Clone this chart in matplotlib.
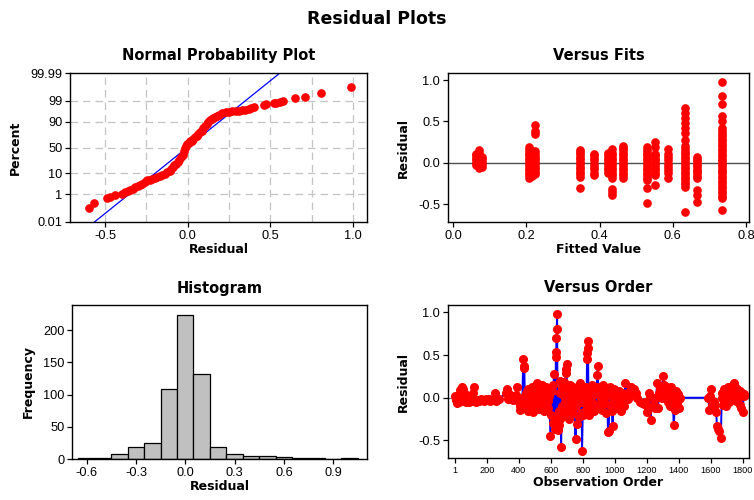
import matplotlib
matplotlib.use('Agg')
import matplotlib.pyplot as plt
import numpy as np
from statistics import NormalDist

plt.rcParams['font.family'] = ['DejaVu Sans']

# ---- normal probability plot: residual vs percent
npp_resid = [-0.60, -0.57, -0.49, -0.47, -0.44, -0.40, -0.38, -0.36, -0.35, -0.33,
             -0.32, -0.30, -0.29, -0.275, -0.26, -0.245, -0.23, -0.215, -0.20, -0.185,
             -0.17, -0.155, -0.14, -0.125, -0.11, -0.10, -0.09, -0.08, -0.07, -0.06,
             -0.05, -0.04, -0.03, -0.02, -0.015, -0.01, -0.005, 0.005, 0.015, 0.025,
             0.035, 0.045, 0.055, 0.065, 0.075, 0.085, 0.095, 0.105, 0.115, 0.125,
             0.135, 0.145, 0.155, 0.165, 0.175, 0.19, 0.21, 0.23, 0.25, 0.27,
             0.29, 0.31, 0.33, 0.35, 0.37, 0.385, 0.40, 0.46, 0.475, 0.52,
             0.535, 0.56, 0.58, 0.65, 0.71, 0.81, 0.99]
npp_pct = [0.135, 0.30, 0.57, 0.68, 0.89, 1.07, 1.39, 1.55, 1.66, 2.0,
           2.3, 2.65, 3.0, 3.6, 4.4, 5.0, 5.4, 5.8, 6.2, 6.8,
           7.6, 8.4, 9.4, 10.8, 12.4, 14.5, 16.5, 18.5, 21, 23.5,
           26.5, 31, 36, 44, 49, 53, 57, 59.5, 62, 63.5,
           66.5, 69.5, 72, 74.8, 77.5, 80, 83, 85.5, 88, 90,
           91.3, 92.2, 93, 93.7, 94.3, 95, 95.8, 96.0, 96.2, 96.4,
           96.6, 96.75, 96.9, 97.1, 97.4, 97.7, 97.9, 98.35, 98.45, 98.65,
           98.75, 98.9, 99.0, 99.29, 99.43, 99.67, 99.87]
fit_mean = -0.003
fit_sd = 0.151
pct_ticks = [0.01, 1, 10, 50, 90, 99, 99.99]
pct_labels = ['0.01', '1', '10', '50', '90', '99', '99.99']

# ---- versus fits: fitted value columns and their residuals
fit_x = [0.062, 0.070, 0.078, 0.206, 0.214, 0.222, 0.347, 0.386, 0.424, 0.433,
         0.465, 0.530, 0.551, 0.586, 0.633, 0.667, 0.735]
fit_resid = [
    [-0.03, 0.0, 0.03, 0.06, 0.09, 0.11],
    [-0.06, -0.03, 0.0, 0.03, 0.06, 0.09, 0.12, 0.15],
    [-0.05, -0.02, 0.01, 0.04, 0.07],
    [-0.18, -0.15, -0.12, -0.09, -0.06, -0.03, 0.0, 0.03, 0.06, 0.09, 0.12, 0.15, 0.19],
    [-0.16, -0.13, -0.10, -0.07, -0.04, -0.01, 0.02, 0.05, 0.08, 0.11, 0.14],
    [-0.14, -0.11, -0.08, -0.05, -0.02, 0.01, 0.04, 0.07, 0.10, 0.14, 0.35, 0.38, 0.46],
    [-0.31, -0.17, -0.14, -0.11, -0.08, -0.05, -0.02, 0.01, 0.04, 0.07, 0.10, 0.13, 0.15],
    [-0.15, -0.12, -0.08, -0.05, -0.01, 0.03, 0.06, 0.09, 0.11],
    [-0.12, -0.09, -0.06, -0.03, 0.0, 0.03, 0.06, 0.09, 0.12],
    [-0.39, -0.36, -0.32, -0.18, -0.15, -0.12, -0.09, -0.06, -0.03, 0.0, 0.03, 0.06, 0.09, 0.12, 0.16],
    [-0.18, -0.15, -0.12, -0.09, -0.06, -0.03, 0.0, 0.03, 0.06, 0.09, 0.12, 0.15, 0.18, 0.20],
    [-0.49, -0.31, -0.21, -0.18, -0.15, -0.12, -0.09, -0.06, -0.03, 0.0, 0.03, 0.06, 0.09, 0.12, 0.15, 0.19],
    [-0.27, -0.15, -0.12, -0.09, -0.06, -0.03, 0.0, 0.03, 0.06, 0.09, 0.11, 0.19, 0.25],
    [-0.18, -0.13, -0.09, -0.05, -0.01, 0.03, 0.07, 0.11, 0.17],
    [-0.60, -0.29, -0.26, -0.23, -0.20, -0.17, -0.14, -0.11, -0.08, -0.05, -0.02, 0.01, 0.04,
     0.07, 0.10, 0.13, 0.16, 0.20, 0.28, 0.36, 0.42, 0.48, 0.54, 0.60, 0.66],
    [-0.47, -0.39, -0.33, -0.19, -0.16, -0.13, -0.10, -0.07, -0.04, -0.01, 0.02, 0.05, 0.07],
    [-0.57, -0.43, -0.40, -0.37, -0.34, -0.31, -0.28, -0.25, -0.22, -0.19, -0.16, -0.13, -0.10,
     -0.07, -0.04, -0.01, 0.02, 0.05, 0.08, 0.11, 0.14, 0.17, 0.20, 0.23, 0.26, 0.29, 0.32,
     0.35, 0.38, 0.42, 0.50, 0.56, 0.71, 0.81, 0.98],
]

# ---- histogram of residuals
bin_centers = [-0.6, -0.5, -0.4, -0.3, -0.2, -0.1, 0.0, 0.1, 0.2, 0.3, 0.4, 0.5, 0.6, 0.7, 0.8, 0.9, 1.0]
bin_counts = [1, 2, 7, 19, 25, 108, 224, 132, 19, 8, 5, 5, 3, 2, 1, 0, 1]

# ---- versus order
obs_order = [1, 8, 14, 20, 27, 33, 40, 46, 52, 58, 64, 70, 78, 86, 95, 104, 112, 118, 124, 132,
             142, 152, 162, 172, 182, 192, 202, 212, 222, 232, 242, 252, 258, 266, 275,
             318, 325, 332, 340, 348, 356, 364, 372, 380, 390, 398, 404, 410, 416, 422,
             427, 430, 434, 438, 440, 445, 450, 455, 460, 465, 470, 475, 480, 485, 490,
             495, 500, 505, 510, 515, 520, 525, 530, 535, 540, 545, 550, 555, 560, 565,
             570, 575, 580, 585, 590, 597, 602, 607, 612, 616, 620, 624, 628, 631, 633,
             635, 637, 639, 642, 645, 648, 651, 654, 657, 660, 664, 668, 672, 676, 680,
             684, 688, 692, 695, 698, 701, 705, 709, 713, 717, 721, 725, 729, 733, 737,
             741, 745, 749, 754, 758, 762, 766, 770, 774, 779, 783, 787, 791, 795, 799,
             803, 807, 811, 815, 819, 823, 826, 828, 830, 832, 835, 840, 845, 850, 855,
             860, 865, 870, 875, 880, 885, 889, 893, 897, 902, 907, 912, 917, 922, 927,
             932, 937, 942, 947, 952, 957, 962, 967, 972, 977, 982, 986, 990, 995, 1000,
             1005, 1010, 1015, 1020, 1025, 1030, 1035, 1040, 1045, 1050, 1055, 1066, 1075, 1085, 1098,
             1104, 1110, 1120, 1130, 1140, 1160, 1170, 1180, 1190, 1198, 1205, 1212, 1218, 1223, 1230,
             1238, 1245, 1252, 1258, 1264, 1270, 1276, 1284, 1292, 1302, 1306, 1312, 1318, 1324, 1330,
             1336, 1342, 1348, 1354, 1358, 1362, 1368, 1374, 1380, 1386, 1392, 1398, 1404, 1410,
             1585, 1590, 1596, 1600, 1606, 1612, 1620, 1628, 1634, 1638, 1644, 1649, 1663, 1668,
             1672, 1676, 1680, 1685, 1690, 1695, 1700, 1705, 1710, 1715, 1720, 1725, 1730, 1735,
             1740, 1745, 1750, 1755, 1760, 1765, 1770, 1775, 1780, 1785, 1790, 1795, 1800, 1805, 1810]
order_resid = [0.02, -0.03, -0.06, 0.01, -0.05, 0.09, 0.05, 0.12, 0.10, -0.04, 0.04, -0.05, -0.03, -0.05, -0.03, -0.04, 0.05, 0.12, -0.03, -0.05,
               -0.03, -0.04, -0.02, -0.03, -0.04, -0.02, -0.03, -0.02, -0.04, -0.03, -0.02, 0.06, -0.04, -0.03, -0.02,
               0.06, 0.10, -0.01, 0.04, -0.02, 0.02, -0.03, -0.01, 0.03, 0.13, -0.05, -0.10, -0.14, -0.08, 0.0,
               0.45, 0.37, 0.35, -0.10, -0.12, 0.05, -0.03, 0.10, -0.15, 0.02, 0.08, -0.08, 0.12, -0.05, -0.17,
               0.0, 0.14, -0.10, 0.06, 0.17, -0.02, -0.13, 0.10, 0.03, -0.07, 0.15, 0.08, -0.16, 0.0, -0.09,
               0.12, 0.05, -0.04, -0.12, 0.02, -0.45, -0.20, 0.08, -0.30, 0.15, 0.28, -0.22, -0.36, 0.48, 0.54,
               0.70, 0.81, 0.98, -0.28, -0.38, -0.15, -0.32, 0.05, -0.25, 0.20, -0.58, -0.10, 0.12, -0.20, 0.02,
               0.18, -0.05, 0.29, 0.34, 0.39, 0.10, -0.15, 0.05, -0.25, 0.15, -0.08, 0.0, -0.12, 0.08, -0.18,
               0.12, -0.05, 0.03, -0.48, -0.10, 0.05, -0.31, 0.02, -0.22, 0.17, -0.05, -0.18, 0.10, -0.62, -0.20,
               -0.05, 0.10, -0.15, 0.02, 0.12, -0.10, 0.45, 0.52, 0.58, 0.66, 0.0, -0.20, 0.08, -0.12, 0.15,
               -0.05, 0.10, -0.15, 0.04, 0.13, -0.08, 0.27, 0.37, 0.05, -0.10, 0.12, -0.02, 0.08, -0.14, 0.15,
               0.0, -0.06, 0.10, -0.18, 0.05, -0.40, -0.39, 0.12, -0.08, 0.04, -0.15, -0.33, 0.0, 0.10, -0.05,
               0.07, -0.12, 0.03, -0.02, 0.08, -0.08, 0.02, -0.15, 0.05, -0.03, -0.10, 0.17, 0.05, -0.02, 0.12,
               0.08, 0.04, 0.10, 0.05, 0.0, -0.05, -0.06, -0.07, -0.05, -0.17, -0.12, 0.06, 0.02, -0.26, -0.10,
               0.0, -0.08, -0.12, 0.0, 0.17, -0.12, 0.05, 0.10, 0.0, 0.25, 0.15, 0.08, 0.02, 0.12, -0.05,
               0.10, -0.10, 0.05, 0.12, -0.08, 0.0, -0.32, -0.14, 0.08, -0.06, 0.04, -0.12, -0.02, 0.0,
               0.0, -0.14, 0.02, 0.10, -0.08, -0.04, -0.05, -0.08, -0.17, -0.33, -0.37, -0.39, -0.47, 0.0,
               0.05, -0.08, 0.10, -0.03, 0.06, -0.10, 0.08, 0.02, 0.12, -0.05, 0.10, 0.03, 0.14, -0.02,
               0.07, 0.17, 0.12, 0.05, -0.04, 0.10, 0.0, 0.06, -0.08, 0.08, -0.12, 0.05, -0.17, 0.02, 0.04]
order_ticks = [1, 200, 400, 600, 800, 1000, 1200, 1400, 1600, 1800]

RED = '#ff0000'
MS = 5.2
title_kw = dict(fontsize=10.5, fontweight='bold', pad=9)
lab_kw = dict(fontsize=9, fontweight='bold')
GRID = dict(color='#c4c4c4', ls=(0, (6, 4)), lw=0.9, zorder=0)


def style(ax, size=9.2):
    for s in ax.spines.values():
        s.set_linewidth(1.0)
        s.set_color('black')
    ax.tick_params(direction='out', length=3.5, width=0.9, labelsize=size, colors='black',
                   pad=2, labelfontfamily='Liberation Sans')


fig = plt.figure(figsize=(7.54, 5.0), dpi=100)
fig.text(0.5, 0.963, 'Residual Plots', ha='center', va='center', fontsize=12.5, fontweight='bold')

nd = NormalDist()

# Normal probability plot
ax1 = fig.add_axes([0.093, 0.556, 0.394, 0.298])
zlim = nd.inv_cdf(0.0001)
for g in [-0.5, -0.25, 0.0, 0.25, 0.5, 0.75, 1.0]:
    ax1.axvline(g, **GRID)
for p in [1, 10, 50, 90, 99]:
    ax1.axhline(nd.inv_cdf(p / 100), **GRID)
zz = np.array([zlim, -zlim])
ax1.plot(fit_mean + fit_sd * zz, zz, color='blue', lw=0.9, zorder=2)
ax1.plot(npp_resid, [nd.inv_cdf(p / 100) for p in npp_pct], 'o', color=RED, ms=MS, mec=RED, zorder=3)
ax1.set_xlim(-0.712, 1.087)
ax1.set_ylim(zlim, -zlim)
ax1.set_yticks([nd.inv_cdf(p / 100) for p in pct_ticks])
ax1.set_yticklabels(pct_labels)
ax1.set_xticks([-0.5, 0.0, 0.5, 1.0])
ax1.set_xticklabels(['-0.5', '0.0', '0.5', '1.0'])
ax1.set_title('Normal Probability Plot', **title_kw)
ax1.set_xlabel('Residual', labelpad=1, **lab_kw)
ax1.set_ylabel('Percent', labelpad=6, **lab_kw)
style(ax1)

# Versus fits
ax2 = fig.add_axes([0.594, 0.556, 0.400, 0.298])
ax2.axhline(0, color='#505050', lw=1.0, zorder=1)
for xv, rs in zip(fit_x, fit_resid):
    ax2.plot([xv] * len(rs), rs, 'o', color=RED, ms=MS, mec=RED, zorder=3)
ax2.set_xlim(-0.015, 0.81)
ax2.set_ylim(-0.717, 1.085)
ax2.set_xticks([0.0, 0.2, 0.4, 0.6, 0.8])
ax2.set_xticklabels(['0.0', '0.2', '0.4', '0.6', '0.8'])
ax2.set_yticks([-0.5, 0.0, 0.5, 1.0])
ax2.set_yticklabels(['-0.5', '0.0', '0.5', '1.0'])
ax2.set_title('Versus Fits', **title_kw)
ax2.set_xlabel('Fitted Value', labelpad=1, **lab_kw)
ax2.set_ylabel('Residual', labelpad=6, **lab_kw)
style(ax2)

# Histogram
ax3 = fig.add_axes([0.0955, 0.082, 0.391, 0.308])
ax3.bar(bin_centers, bin_counts, width=0.1, color='#c0c0c0', edgecolor='black', lw=0.9)
ax3.set_xlim(-0.689, 1.105)
ax3.set_ylim(0, 239)
ax3.set_xticks([-0.6, -0.3, 0.0, 0.3, 0.6, 0.9])
ax3.set_xticklabels(['-0.6', '-0.3', '0.0', '0.3', '0.6', '0.9'])
ax3.set_yticks([0, 50, 100, 150, 200])
ax3.set_title('Histogram', **title_kw)
ax3.set_xlabel('Residual', labelpad=1, **lab_kw)
ax3.set_ylabel('Frequency', labelpad=6, **lab_kw)
style(ax3)

# Versus order
ax4 = fig.add_axes([0.594, 0.084, 0.399, 0.306])
ax4.axhline(0, color='#808080', lw=1.0, zorder=1)
ax4.plot(obs_order, order_resid, '-', color='blue', lw=1.4, zorder=2)
ax4.plot(obs_order, order_resid, 'o', color=RED, ms=MS + 0.3, mec=RED, zorder=3)
ax4.set_xlim(-44, 1837)
ax4.set_ylim(-0.705, 1.085)
ax4.set_xticks(order_ticks)
ax4.set_yticks([-0.5, 0.0, 0.5, 1.0])
ax4.set_yticklabels(['-0.5', '0.0', '0.5', '1.0'])
ax4.set_title('Versus Order', **title_kw)
ax4.set_xlabel('Observation Order', labelpad=1, **lab_kw)
ax4.set_ylabel('Residual', labelpad=6, **lab_kw)
style(ax4)
ax4.tick_params(axis='x', labelsize=6.6)

fig.savefig('out.png', dpi=100)
